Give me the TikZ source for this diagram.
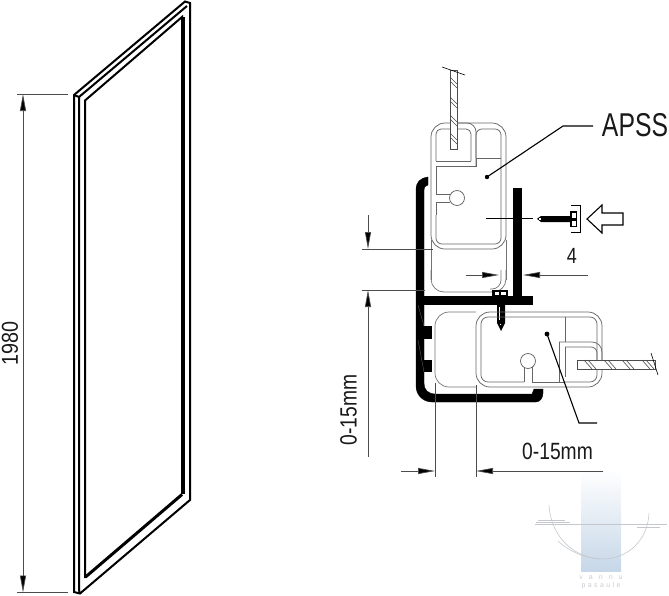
\documentclass[tikz,border=0pt]{standalone}
\usepackage{fontspec}
\usepackage{graphicx}
\setmainfont{Liberation Sans}
\usetikzlibrary{arrows.meta}
\definecolor{wmblue}{HTML}{C6D7E8}
\definecolor{wmline}{HTML}{C4C8CC}
\definecolor{wmtext}{HTML}{C8CCD0}
\tikzset{
  dimline/.style={line width=.7pt,draw=black!70},
  dimarrow/.style={dimline,-{Triangle[length=17pt,width=6pt,fill=black]}},
  prof/.style={line width=.75pt,draw=black!60},
  ghost/.style={line width=.7pt,draw=black!55},
  frameline/.style={line width=2pt,draw=black,line join=miter},
  metal/.style={fill=black,draw=black,line width=.3pt},
  lead/.style={line width=1.1pt,draw=black},
  hatchl/.style={line width=.6pt,draw=black!70},
  glass/.style={line width=.8pt,draw=black!70,fill=white},
  lbl/.style={inner sep=0pt,text=black!90},
  wm/.style={line width=.6pt,draw=wmline}
}
\begin{document}
\begin{tikzpicture}[x=1pt,y=-1pt]
\useasboundingbox (0,0) rectangle (669,595);
% --- watermark
\shade[top color=white,bottom color=wmblue,draw=none] (581,470) rectangle (621,571);
\draw[wm] (535,524) -- (667,524);
\draw[wm] (538,520) -- (565,520) (536,522) -- (570,522);
\draw[wm] (637,527) -- (660,527);
\draw[wm] (549,505) .. controls (551,540) and (578,559) .. (602,559) .. controls (628,559) and (648,540) .. (649,513);
\draw[wm] (558,541) .. controls (570,552) and (585,558) .. (600,559);
\node[lbl,text=wmtext] (wmA) at (601,578) {\fontsize{7}{7}\selectfont v\kern6pt a\kern6pt n\kern6pt n\kern6pt u};
\node[lbl,text=wmtext] (wmB) at (601,585.5) {\fontsize{7}{7}\selectfont p\kern2.4pt a\kern2.4pt s\kern2.4pt a\kern2.4pt u\kern2.4pt l\kern2.4pt e};
% --- panel frame
\draw[frameline] (74,590) -- (74,95) -- (185,1.5) -- (190,3) -- (190,500) -- (80,593.5) -- (74,592) -- cycle;
\draw[frameline] (74,95) -- (79,97) -- (187,6);
\draw[frameline] (79,97) -- (79,590) -- (80,593.5);
\draw[frameline] (85,578) -- (85,100.5) -- (182,17) -- (182,494);
\draw[line width=3pt] (85.5,577) -- (182,494.5);
\draw[line width=1.2pt] (184,17) -- (184,494);
% --- 1980 dimension
\coordinate (hA) at (23,94); \coordinate (hB) at (23,592.5);
\draw[dimline] (17,94) -- (68,94);
\draw[dimline] (17,592.5) -- (68,592.5);
\draw[dimline,{Triangle[length=17pt,width=6pt,fill=black]}-{Triangle[length=17pt,width=6pt,fill=black]}] (hA) -- (hB);
\node[lbl,rotate=90] (t1980) at (10,343) {\scalebox{.86}[1]{\fontsize{23}{23}\selectfont 1980}};
% --- upper profile: ghost lower position
\draw[ghost] (431,240) -- (431,280);
\draw[ghost] (506,240) -- (506,280);
\draw[ghost,rounded corners=13pt] (431,270) -- (431,292) -- (506,292) -- (506,270);
\draw[ghost,rounded corners=9pt] (501,270) -- (501,289) -- (490,289);
% --- upper profile
\draw[prof,rounded corners=14pt,fill=white] (431,160) -- (431,123) -- (506,123) -- (506,249) -- (431,249) -- cycle;
\draw[prof,rounded corners=6pt] (476,158) -- (476,129) -- (501,129) -- (501,244) -- (436,244) -- (436,215);
\draw[prof] (436,215) -- (436,202) -- (450,202);
\draw[prof] (450,194) -- (436,194) -- (436,166) -- (476,166) -- (476,158) -- (501,158);
\draw[prof,rounded corners=9pt] (476,166) -- (476,123) -- (455,123);
\draw[prof,rounded corners=5pt] (436,161) -- (436,129) -- (471,129) -- (471,161);
\draw[prof] (436,161) -- (471,161);
\draw[prof,fill=white] (457,198) circle (7.5);
% upper glass
\draw[glass] (450,70) rectangle (457,149);
\foreach \yy in {77,97,115,133} {
  \draw[hatchl] (450,\yy) -- (457,\yy+7);
  \draw[hatchl] (450,\yy+4) -- (457,\yy+11);
}
\draw[line width=.6pt] (442,67) -- (465,75);
% --- black channel
\path[metal] (416,190) .. controls (416,182) and (420,178) .. (428,177) -- (428,185) .. controls (425,186) and (424,187) .. (424,190)
  -- (424,383) .. controls (424,390) and (428,394) .. (436,394) -- (532,394)
  -- (534,389) -- (543,389) -- (543,393) .. controls (543,398) and (540,402) .. (536,402)
  -- (432,402) .. controls (423,402) and (416,395) .. (416,386) -- cycle;
\fill[black] (424,326) rectangle (432,339);
\fill[black] (424,360) rectangle (432,372);
\fill[black] (416,296) rectangle (533,305);
\fill[black] (513,188) rectangle (522,297);
\draw[black!45,line width=.2pt] (418,305) -- (424,326) (418,340) -- (424,372);
% --- screw through bar
\fill[black] (492,290) rectangle (508,296.5);
\fill[white] (494.5,291.8) rectangle (499,295);
\fill[white] (501,291.8) rectangle (505.5,295);
\path[fill=black] (497,296) -- (505,296) -- (505,323) -- (501,331) -- (497,323) -- cycle;
\draw[white,line width=.5pt] (499,307) -- (499,320);
\fill[white] (500.5,324.5) circle (.6);
% --- lower profile ghost
\draw[ghost,rounded corners=14pt] (476,312) -- (435,312) -- (435,387) -- (476,387);
% --- lower profile
\draw[prof,rounded corners=14pt] (520,312) -- (476,312) -- (476,387) -- (602,387) -- (602,312) -- (520,312);
\draw[prof,rounded corners=7pt] (520,317) -- (481,317) -- (481,382) -- (524,382);
\draw[prof] (524,382) -- (524,366);
\draw[prof] (532,366) -- (532,382) -- (565,382);
\draw[prof,rounded corners=7pt] (565,382) -- (597,382) -- (597,317) -- (520,317);
\draw[prof] (565,317) -- (565,342);
\draw[prof] (559,382) -- (559,342);
\draw[prof,rounded corners=10pt] (559,342) -- (602,342) -- (602,368);
\draw[prof] (565,377) -- (565,347);
\draw[prof,rounded corners=6pt] (565,347) -- (597,347) -- (597,365);
\draw[prof,fill=white] (528,361) circle (7.5);
% lower glass
\draw[glass] (577,360) rectangle (655,369);
\foreach \xx in {584,604,622,642} {
  \draw[hatchl] (\xx,360) -- (\xx+8,369);
  \draw[hatchl] (\xx+4,360) -- (\xx+12,369);
}
\draw[line width=.6pt] (651,353) -- (658,375);
% --- top screw (front view)
\draw[line width=.9pt] (486,218.3) -- (533,218.3);
\path[fill=black] (537,218.8) -- (541,216) -- (570,216) -- (570,222) -- (541,222) -- cycle;
\fill[white] (538.5,218) rectangle (541,219.5);
\fill[black] (570,211) rectangle (577,227);
\fill[white] (572,212.5) rectangle (576,217.5);
\fill[white] (572,220.5) rectangle (576,225.5);
\draw[line width=.9pt] (571,205) -- (580,205) -- (580,232) -- (571,232);
\draw[line width=1.1pt,fill=white,line join=miter] (587,219) -- (602,205) -- (602,213) -- (623,213) -- (623,225) -- (602,225) -- (602,233) -- cycle;
% --- small dimension 4
\coordinate (fA) at (466,275); \coordinate (fB) at (499,275);
\coordinate (fC) at (588,275); \coordinate (fD) at (523,275);
\draw[dimarrow] (fA) -- (fB);
\draw[dimarrow] (fC) -- (fD);
\node[lbl] (t4) at (572,256) {\scalebox{.82}[1]{\fontsize{22}{22}\selectfont 4}};
% --- vertical 0-15mm
\coordinate (vA) at (368,215); \coordinate (vB) at (368,249);
\coordinate (vC) at (368,457); \coordinate (vD) at (368,290);
\draw[dimline] (362,249) -- (433,249);
\draw[dimline] (362,290) -- (425,290);
\draw[dimarrow] (vA) -- (vB);
\draw[dimarrow] (vC) -- (vD);
\node[lbl,rotate=90] (tV) at (348.5,410) {\scalebox{.82}[1]{\fontsize{23.5}{23.5}\selectfont 0-15mm}};
% --- horizontal 0-15mm
\coordinate (wA) at (401,471); \coordinate (wB) at (435,471);
\coordinate (wC) at (603,471); \coordinate (wD) at (476,471);
\draw[dimline] (435,383) -- (435,477);
\draw[dimline] (476,385) -- (476,477);
\draw[dimarrow] (wA) -- (wB);
\draw[dimarrow] (wC) -- (wD);
\node[lbl] (tH) at (557.5,451.5) {\scalebox{.82}[1]{\fontsize{23.5}{23.5}\selectfont 0-15mm}};
% --- APSS leader
\node[lbl] (tA) at (635,125) {\scalebox{.75}[1]{\fontsize{33}{33}\selectfont APSS}};
\coordinate (aA) at (487,177); \coordinate (aB) at (563,126); \coordinate (aC) at (593,126);
\fill (aA) circle (2.2);
\draw[lead] (aA) -- (aB) -- (aC);
% --- lower leader
\coordinate (bA) at (547,334); \coordinate (bB) at (579,423); \coordinate (bC) at (597,423);
\fill (bA) circle (2.4);
\draw[lead] (bA) -- (bB) -- (bC);
\end{tikzpicture}
\end{document}
